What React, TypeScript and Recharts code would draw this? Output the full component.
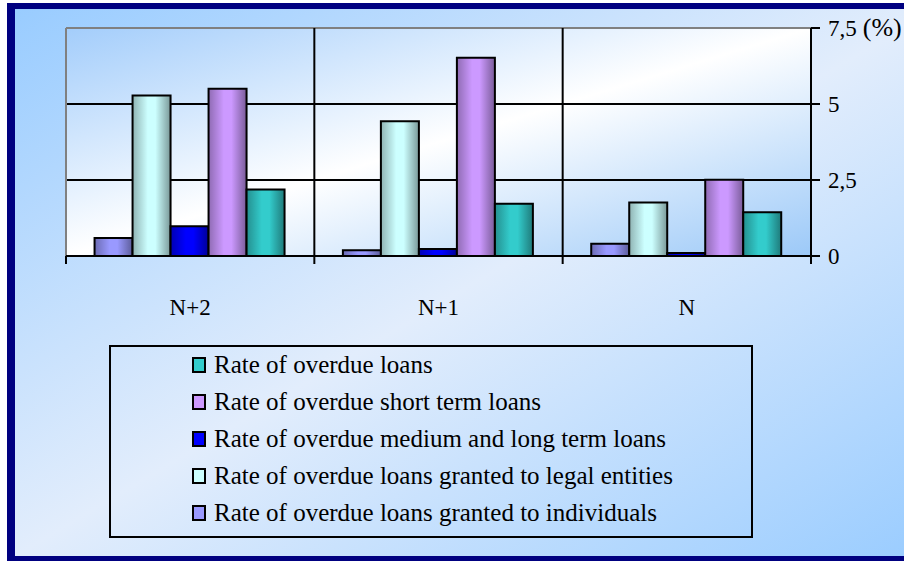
import { BarChart, Bar, XAxis, YAxis, CartesianGrid, ReferenceLine, Legend } from 'recharts';

const categories = ['N+2', 'N+1', 'N'];
const individuals = [0.59, 0.19, 0.4];
const legalEntities = [5.28, 4.43, 1.76];
const mediumLong = [0.98, 0.23, 0.1];
const shortTerm = [5.5, 6.52, 2.51];
const overdue = [2.19, 1.72, 1.44];
const yTicks = [0, 2.5, 5, 7.5];

// bar order left to right inside a group
const series = [
  { key: 'individuals', name: 'Rate of overdue loans granted to individuals', color: '#9999ff', values: individuals },
  { key: 'legal', name: 'Rate of overdue loans granted to legal entities', color: '#ccffff', values: legalEntities },
  { key: 'medium', name: 'Rate of overdue medium and long term loans', color: '#0000ff', values: mediumLong },
  { key: 'short', name: 'Rate of overdue short term loans', color: '#cc99ff', values: shortTerm },
  { key: 'overdue', name: 'Rate of overdue loans', color: '#33cccc', values: overdue },
];

const data = categories.map((cat, i) => {
  const row: Record<string, string | number> = { cat };
  series.forEach((s) => {
    row[s.key] = s.values[i];
  });
  return row;
});

const FONT = 'Times New Roman, Liberation Serif, DejaVu Serif, serif';

const shade = (hex: string, f: number) => {
  const n = parseInt(hex.slice(1), 16);
  const r = Math.round(((n >> 16) & 255) * f);
  const g = Math.round(((n >> 8) & 255) * f);
  const b = Math.round((n & 255) * f);
  return `rgb(${r},${g},${b})`;
};

const CatTick = (props: any) => {
  const { x, y, payload, index, visibleTicksCount } = props;
  const half = payload.offset || 0;
  return (
    <g>
      <line x1={x - half} y1={y} x2={x - half} y2={y + 8} stroke="#000" strokeWidth={2} />
      {index === visibleTicksCount - 1 && (
        <line x1={x + half} y1={y} x2={x + half} y2={y + 8} stroke="#000" strokeWidth={2} />
      )}
      <text x={x} y={y + 59} textAnchor="middle" fill="#000" style={{ fontSize: 23, fontFamily: FONT }}>
        {payload.value}
      </text>
    </g>
  );
};

const ValueTick = (props: any) => {
  const { x, y, payload } = props;
  const label = String(payload.value).replace('.', ',');
  return (
    <text x={x} y={y} dy="0.355em" fill="#000" style={{ fontSize: 23, fontFamily: FONT }}>
      {label}
      {payload.value === 7.5 && (
        <tspan dx={6} style={{ fontSize: 26 }}>
          (%)
        </tspan>
      )}
    </text>
  );
};

const LegendBox = () => (
  <div
    style={{
      width: 644,
      height: 193,
      boxSizing: 'border-box',
      border: '2px solid #000',
      paddingLeft: 81,
      fontFamily: FONT,
      fontSize: 25,
      color: '#000',
    }}
  >
    {[...series].reverse().map((s) => (
      <div key={s.key} style={{ height: 37.5, display: 'flex', alignItems: 'center', marginTop: -0.5 }}>
        <span
          style={{
            display: 'inline-block',
            width: 10,
            height: 12,
            border: '2px solid #000',
            background: s.color,
            marginRight: 8,
          }}
        />
        <span style={{ whiteSpace: 'nowrap' }}>{s.name}</span>
      </div>
    ))}
  </div>
);

export default function App() {
  return (
    <div style={{ position: 'fixed', left: 0, top: 0, width: 904, height: 561, overflow: 'hidden', background: '#fff', fontFamily: FONT }}>
      <div
        style={{
          position: 'absolute',
          left: 7,
          top: 3,
          width: 920,
          height: 547,
          borderLeft: '8px solid #000080',
          borderTop: '6px solid #000080',
          borderBottom: '8px solid #000080',
          background: 'linear-gradient(to bottom right, #99ccff 0%, #e2edfc 50%, #99ccff 100%)',
        }}
      />
      <div style={{ position: 'absolute', left: 0, top: 0 }}>
        <BarChart
          width={904}
          height={561}
          data={data}
          margin={{ top: 28, right: 13, bottom: 235, left: 66 }}
          barCategoryGap="11.5%"
          barGap={0}
          style={{ fontFamily: FONT }}
        >
          <defs>
            <linearGradient id="plotBg" x1="0" y1="0" x2="1" y2="1">
              <stop offset="0%" stopColor="#a3cdfb" />
              <stop offset="50%" stopColor="#ffffff" />
              <stop offset="100%" stopColor="#9cc9f8" />
            </linearGradient>
            {series.map((s) => (
              <linearGradient key={s.key} id={`bar-${s.key}`} x1="0" y1="0" x2="1" y2="0">
                <stop offset="0%" stopColor={shade(s.color, 0.7)} />
                <stop offset="40%" stopColor={s.color} />
                <stop offset="60%" stopColor={s.color} />
                <stop offset="100%" stopColor={shade(s.color, 0.6)} />
              </linearGradient>
            ))}
          </defs>
          <CartesianGrid fill="url(#plotBg)" vertical={false} stroke="#000" strokeWidth={2} />
          <XAxis
            dataKey="cat"
            height={70}
            axisLine={{ stroke: '#000', strokeWidth: 2 }}
            tickLine={false}
            tickSize={0}
            tickMargin={0}
            interval={0}
            tick={<CatTick />}
          />
          <YAxis
            orientation="right"
            width={80}
            domain={[0, 7.5]}
            ticks={yTicks}
            interval={0}
            axisLine={{ stroke: '#000', strokeWidth: 2 }}
            tickLine={{ stroke: '#000', strokeWidth: 2 }}
            tickSize={9}
            tickMargin={8}
            tick={<ValueTick />}
          />
          <ReferenceLine y={7.5} stroke="#808080" strokeWidth={2} />
          <ReferenceLine x="N+2" position="start" stroke="#808080" strokeWidth={2} />
          <ReferenceLine x="N+1" position="start" stroke="#000" strokeWidth={2} />
          <ReferenceLine x="N" position="start" stroke="#000" strokeWidth={2} />
          {series.map((s) => (
            <Bar
              key={s.key}
              dataKey={s.key}
              name={s.name}
              fill={`url(#bar-${s.key})`}
              stroke="#000"
              strokeWidth={2}
              isAnimationActive={false}
            />
          ))}
          <Legend
            layout="vertical"
            align="center"
            verticalAlign="middle"
            wrapperStyle={{ left: 109, top: 345, width: 644, height: 193 }}
            content={<LegendBox />}
          />
        </BarChart>
      </div>
    </div>
  );
}
